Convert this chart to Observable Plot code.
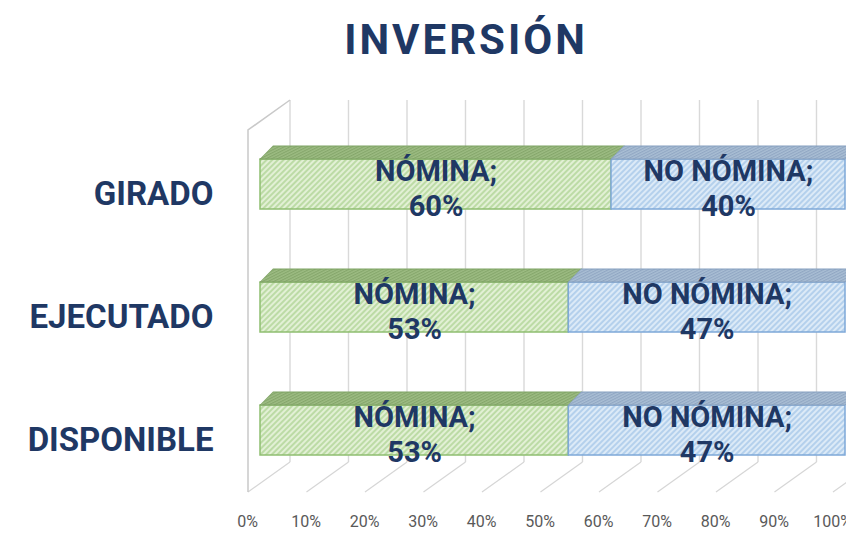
<!DOCTYPE html>
<html><head><meta charset="utf-8">
<script src="https://cdn.jsdelivr.net/npm/d3@7"></script>
<script src="https://cdn.jsdelivr.net/npm/@observablehq/plot@0.6"></script>
<style>
body{margin:0;background:#fff;width:846px;height:533px;overflow:hidden;font-family:Roboto,sans-serif}
#title{height:80px;box-sizing:border-box;padding-top:19px;padding-left:86px;text-align:center;font:700 42px/42px Roboto,sans-serif;letter-spacing:3px;color:#1F3864}
#chart svg{display:block}
</style></head><body>
<div id="title">INVERSIÓN</div>
<div id="chart"></div>
<script>
const categories = ["GIRADO", "EJECUTADO", "DISPONIBLE"];
const series = ["NÓMINA", "NO NÓMINA"];
const nomina = [0.60, 0.527, 0.527];
const noNomina = [0.40, 0.473, 0.473];
const xTicks = [0, 0.1, 0.2, 0.3, 0.4, 0.5, 0.6, 0.7, 0.8, 0.9, 1.0];

const table = categories.flatMap((c, i) => {
  const a = nomina[i], b = noNomina[i];
  return [
    {cat: c, series: series[0], value: a, start: 0, end: a},
    {cat: c, series: series[1], value: b, start: a, end: a + b}
  ];
});
const green = table.filter(d => d.series === series[0]);
const blue = table.filter(d => d.series === series[1]);
const pct = d3.format(".0%");
const navy = "#1F3864";

const W = 846, H = 453, mt = 41, mb = 41, ml = 260, mr = 1;

const plot = Plot.plot({
  width: W, height: H,
  marginLeft: ml, marginRight: mr, marginTop: mt, marginBottom: mb,
  style: {fontFamily: "Roboto, sans-serif", background: "transparent"},
  x: {domain: [0, 1]},
  y: {domain: categories, paddingInner: 0.594, paddingOuter: 0.3},
  marks: [
    Plot.axisX(xTicks, {tickFormat: pct, tickSize: 0, tickPadding: 23, dx: -13, fontSize: 16, color: "#595959", label: null}),
    Plot.axisY({tickSize: 0, tickPadding: 47, dy: 10, fontSize: 33, fontWeight: 700, color: navy, label: null}),
    Plot.barX(green, {x1: "start", x2: "end", y: "cat", fill: "url(#gF)", stroke: "#8FBE70", strokeWidth: 1.5}),
    Plot.barX(blue, {x1: "start", x2: "end", y: "cat", fill: "url(#bF)", stroke: "#7EA8D8", strokeWidth: 1.5}),
    Plot.barX(green, {x1: "start", x2: "end", y: "cat", insetBottom: 37, dy: -13, fill: "url(#gT)", stroke: "#7FA365", strokeWidth: 0.8}),
    Plot.barX(blue, {x1: "start", x2: "end", y: "cat", insetBottom: 37, dy: -13, fill: "url(#bT)", stroke: "#86A0C0", strokeWidth: 0.8}),
    Plot.text(table, {x: d => (d.start + d.end) / 2, y: "cat", text: d => `${d.series};\n${pct(d.value)}`,
      fontSize: 29, fontWeight: 700, fill: navy, lineHeight: 1.2, dy: 3})
  ]
});

const svg = d3.select(plot);
const defs = svg.insert("defs", ":first-child");
function pat(id, bg, line) {
  const p = defs.append("pattern").attr("id", id).attr("patternUnits", "userSpaceOnUse")
    .attr("width", 4).attr("height", 4).attr("patternTransform", "rotate(45)");
  p.append("rect").attr("width", 4).attr("height", 4).attr("fill", bg);
  p.append("line").attr("x1", 1).attr("y1", 0).attr("x2", 1).attr("y2", 4).attr("stroke", line).attr("stroke-width", 1.3);
}
pat("gF", "#E2F0D5", "#A8D08C");
pat("bF", "#DCEAF7", "#9FC3E6");
pat("gT", "#9DBC83", "#7C9F62");
pat("bT", "#A9BED4", "#889FBD");

// skew the top faces into parallelograms
svg.selectAll("g").filter(function() {
  const f = this.getAttribute("fill");
  return f === "url(#gT)" || f === "url(#bT)";
}).selectAll("rect").each(function() {
  const b = +this.getAttribute("y") + +this.getAttribute("height");
  this.setAttribute("transform", `translate(0,${b}) skewX(-45) translate(0,${-b})`);
});

// 3D walls and gridlines from the x scale
const xs = plot.scale("x");
const floorFront = H - mb, floorBack = floorFront - 30, wallTop = mt - 21;
const deco = svg.insert("g", "g").attr("fill", "none");
for (const v of xTicks) {
  const xb = xs.apply(v) + 30, xf = xs.apply(v) - 12;
  deco.append("line").attr("x1", xb).attr("x2", xb).attr("y1", wallTop).attr("y2", floorBack)
    .attr("stroke", "#D9D9D9").attr("stroke-width", 1.4);
  deco.append("line").attr("x1", xb).attr("x2", xf).attr("y1", floorBack).attr("y2", floorFront)
    .attr("stroke", "#D6D6D6").attr("stroke-width", 1.2);
}
const x0f = xs.apply(0) - 12, x0b = xs.apply(0) + 30;
deco.append("path").attr("d", `M${x0b},${wallTop}L${x0f},${wallTop + 30}L${x0f},${floorFront}`)
  .attr("stroke", "#C9C9C9").attr("stroke-width", 1.5);

document.getElementById("chart").append(plot);
</script>
</body></html>
